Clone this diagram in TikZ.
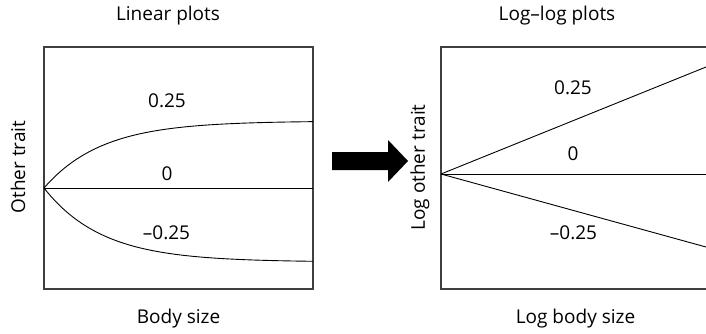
\documentclass[tikz,border=0pt]{standalone}
\usepackage{fontspec}
\setmainfont{Open Sans}
\tikzset{>=stealth,
  frame/.style={draw=black!75, line width=1.4pt},
  curve/.style={draw=black, line width=0.9pt},
  lbl/.style={font=\fontsize{19}{22}\selectfont, inner sep=0pt}}

\begin{document}
\begin{tikzpicture}[x=1pt,y=1pt]
    \useasboundingbox (0,0) rectangle (706,333);
    % linear plots
    \draw[frame] (44,44) rectangle (313,286);
    \coordinate (lo) at (44,145);
    \draw[curve] (lo) -- (313,145);
    \draw[curve] plot[domain=0:269,samples=80] ({\x+44},{145+67*(1-exp(-\x/58))});
    \draw[curve] plot[domain=0:269,samples=80] ({\x+44},{145-74*(1-exp(-\x/58))});
    \node[lbl] (lup) at (167,232) {0.25};
    \node[lbl] (lmid) at (167,159) {0};
    \node[lbl] (ldown) at (166.5,100) {–0.25};
    \node[lbl] (ltitle) at (168,317) {Linear plots};
    \node[lbl] (lxlab) at (178.5,14) {Body size};
    \node[lbl, rotate=90] (lylab) at (18,166) {Other trait};
    % arrow between
    \fill (332,163) -- (388,163) -- (388,151) -- (408,172) -- (388,193) -- (388,181) -- (332,181) -- cycle;
    % log-log plots
    \draw[frame] (706,286) -- (441,286) -- (441,44) -- (706,44);
    \coordinate (ro) at (441,159);
    \draw[curve] (ro) -- (706,159);
    \draw[curve] (ro) -- (706,266);
    \draw[curve] (ro) -- (706,86);
    \node[lbl] (rup) at (573,245) {0.25};
    \node[lbl] (rmid) at (573,179) {0};
    \node[lbl] (rdown) at (573.5,100) {–0.25};
    \node[lbl] (rtitle) at (557,317) {Log–log plots};
    \node[lbl] (rxlab) at (575.5,14) {Log body size};
    \node[lbl, rotate=90] (rylab) at (420,165.5) {Log other trait};
\end{tikzpicture}
\end{document}
